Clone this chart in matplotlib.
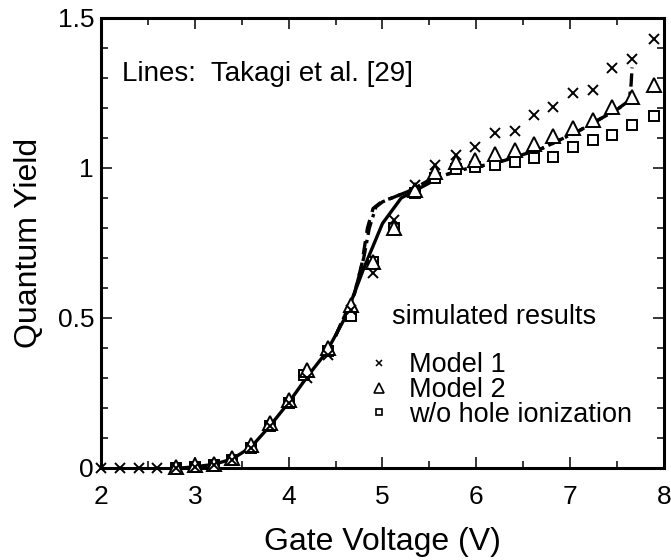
#!/usr/bin/env python3
"""
Quantum yield vs gate voltage: simulated points and Takagi et al. curves
"""

import matplotlib
matplotlib.use('Agg')
import matplotlib.pyplot as plt
from matplotlib.lines import Line2D
from matplotlib.ticker import MultipleLocator

plt.rcParams['font.family'] = ['Liberation Sans', 'DejaVu Sans']

# Simulated results
model1_v = [2.0, 2.2, 2.4, 2.6, 2.8, 3.0, 3.2, 3.4, 3.6, 3.8, 4.0, 4.2, 4.42, 4.66,
            4.9, 5.12, 5.35, 5.56, 5.78, 5.99, 6.2, 6.41, 6.62, 6.82, 7.03, 7.24,
            7.45, 7.66, 7.89]
model1_q = [0.0, 0.0, 0.0, 0.0, 0.0, 0.003, 0.01, 0.025, 0.065, 0.14, 0.215, 0.3,
            0.378, 0.525, 0.65, 0.827, 0.943, 1.01, 1.043, 1.07, 1.117, 1.123,
            1.177, 1.203, 1.25, 1.26, 1.333, 1.363, 1.43]

model2_v = [2.8, 3.0, 3.2, 3.4, 3.6, 3.8, 4.0, 4.2, 4.42, 4.66, 4.9, 5.12, 5.35,
            5.56, 5.78, 5.99, 6.2, 6.41, 6.62, 6.82, 7.03, 7.24, 7.45, 7.66, 7.89]
model2_q = [0.004, 0.01, 0.013, 0.033, 0.075, 0.15, 0.225, 0.325, 0.4, 0.543,
            0.688, 0.8, 0.925, 0.985, 1.02, 1.025, 1.045, 1.06, 1.08, 1.105,
            1.133, 1.16, 1.203, 1.235, 1.275]

nohole_v = [2.8, 3.0, 3.2, 3.4, 3.6, 3.8, 4.0, 4.16, 4.42, 4.66, 4.9, 5.12, 5.35,
            5.56, 5.78, 5.99, 6.2, 6.41, 6.62, 6.82, 7.03, 7.24, 7.45, 7.66, 7.89]
nohole_q = [0.0, 0.003, 0.01, 0.025, 0.065, 0.14, 0.215, 0.31, 0.39, 0.505,
            0.688, 0.8, 0.915, 0.967, 0.995, 1.003, 1.01, 1.02, 1.033, 1.037,
            1.07, 1.093, 1.11, 1.143, 1.173]

# Takagi et al. [29] curves
solid_v = [2.85, 3.0, 3.2, 3.4, 3.6, 3.8, 4.0, 4.2, 4.4, 4.6, 4.8, 5.0, 5.2,
           5.35, 5.5]
solid_q = [0.0, 0.004, 0.012, 0.03, 0.07, 0.14, 0.218, 0.305, 0.385, 0.5, 0.665,
           0.815, 0.9, 0.925, 0.95]

dash_v = [4.5, 4.7, 4.78, 4.84, 4.9, 5.0, 5.1, 5.3, 5.5, 5.7, 5.9, 6.1, 6.3,
          6.5, 6.7, 6.9, 7.1, 7.3, 7.5, 7.62]
dash_q = [0.44, 0.58, 0.68, 0.8, 0.865, 0.89, 0.9, 0.925, 0.96, 0.98, 0.998,
          1.01, 1.025, 1.045, 1.065, 1.095, 1.125, 1.16, 1.195, 1.22]

dashdot_v = [4.5, 4.7, 4.8, 4.86, 4.93, 5.0, 5.1, 5.3, 5.5, 5.7, 5.9, 6.1, 6.3,
             6.5, 6.7, 6.9, 7.1, 7.3, 7.5, 7.63, 7.65, 7.66]
dashdot_q = [0.44, 0.58, 0.7, 0.8, 0.87, 0.887, 0.9, 0.925, 0.96, 0.98, 0.998,
             1.01, 1.025, 1.045, 1.065, 1.095, 1.125, 1.16, 1.195, 1.225, 1.28,
             1.335]

x_ticks = [2, 3, 4, 5, 6, 7, 8]
y_ticks = [0, 0.5, 1, 1.5]
y_tick_labels = ['0', '0.5', '1', '1.5']

fig = plt.figure(figsize=(6.71, 5.6), dpi=100)
ax = fig.add_axes([0.1505, 0.1643, 0.839, 0.8036])

# Takagi curves
ax.plot(solid_v, solid_q, color='black', lw=2.4, solid_capstyle='round')
ax.plot(dash_v, dash_q, color='black', lw=2.4, dashes=(4, 2.5))
ax.plot(dashdot_v, dashdot_q, color='black', lw=2.4, dashes=(4, 1.5, 1, 1.5))

# Simulated points (squares under triangles)
ax.plot(nohole_v, nohole_q, ls='none', marker='s', ms=6.5, mew=1.4,
        mfc='white', mec='black', clip_on=False, zorder=3)
ax.plot(model2_v, model2_q, ls='none', marker='^', ms=10, mew=1.4,
        mfc='white', mec='black', clip_on=False, zorder=4)
ax.plot(model1_v, model1_q, ls='none', marker='x', ms=7, mew=1.4,
        color='black', clip_on=False, zorder=5)

ax.set_xlim(2, 8)
ax.set_ylim(0, 1.5)
ax.set_xticks(x_ticks)
ax.set_xticklabels([str(t) for t in x_ticks])
ax.set_yticks(y_ticks)
ax.set_yticklabels(y_tick_labels)
ax.xaxis.set_minor_locator(MultipleLocator(0.5))
ax.yaxis.set_minor_locator(MultipleLocator(0.1))
ax.tick_params(which='both', direction='in', top=True, right=True,
               labelsize=19, width=1.1)
ax.tick_params(which='major', length=8)
ax.tick_params(which='minor', length=5)
ax.tick_params(axis='x', pad=12)
ax.tick_params(axis='y', pad=5)
for sp in ax.spines.values():
    sp.set_linewidth(2.2)

ax.set_xlabel('Gate Voltage (V)', fontsize=23, labelpad=13)
ax.set_ylabel('Quantum Yield', fontsize=23, labelpad=10)

ax.text(0.037, 0.876, 'Lines:  Takagi et al. [29]', transform=ax.transAxes,
        fontsize=20, va='center', ha='left')
ax.text(0.517, 0.336, 'simulated results', transform=ax.transAxes,
        fontsize=19.5, va='center', ha='left')

handles = [
    Line2D([], [], ls='none', marker='x', ms=5, mew=1.1, color='black'),
    Line2D([], [], ls='none', marker='^', ms=7.5, mew=1.2, mfc='white', mec='black'),
    Line2D([], [], ls='none', marker='s', ms=5, mew=1.2, mfc='white', mec='black'),
]
labels = ['Model 1', 'Model 2', 'w/o hole ionization']
ax.legend(handles, labels, loc='upper left', bbox_to_anchor=(0.475, 0.257),
          frameon=False, fontsize=19.5, handlelength=0.8, handletextpad=0.7,
          labelspacing=-0.05, borderpad=0, borderaxespad=0)

fig.savefig('out.png', dpi=100, facecolor='white')
